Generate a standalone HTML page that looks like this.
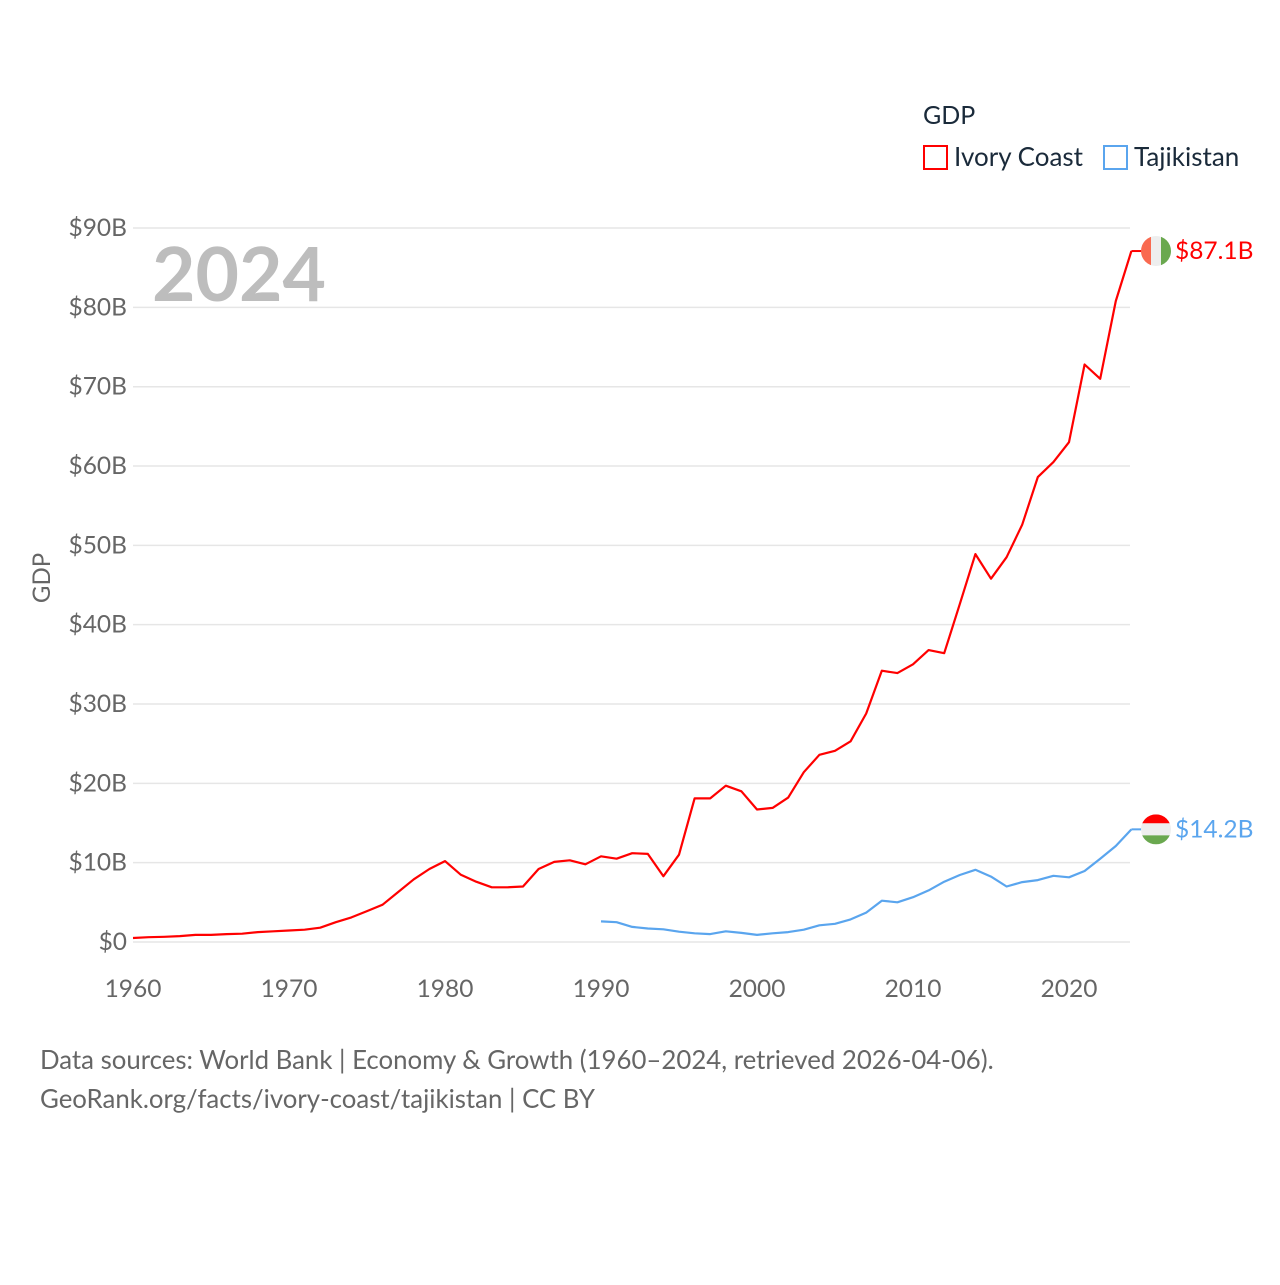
<!DOCTYPE html>
<html><head><meta charset="utf-8"><style>
body{margin:0;background:#fff;font-family:"Liberation Sans",sans-serif}
svg text{font-family:"Lato","Liberation Sans",sans-serif}
</style></head><body>
<svg id="chart" width="1280" height="1280" xmlns="http://www.w3.org/2000/svg">
<text x="923" y="124" font-size="25" fill="#1a2a3a">GDP</text>
<rect x="924" y="146" width="23" height="23" fill="none" stroke="#f00" stroke-width="2"/>
<text x="954" y="166" font-size="26" fill="#1a2a3a">Ivory Coast</text>
<rect x="1104" y="146" width="23" height="23" fill="none" stroke="#5aa5ee" stroke-width="2"/>
<text x="1134" y="166" font-size="26" fill="#1a2a3a">Tajikistan</text>
<g id="grid"></g>
<text x="152" y="301" font-size="75" font-weight="bold" fill="#bdbdbd">2024</text>
<text transform="translate(50,578) rotate(-90)" text-anchor="middle" font-size="24" fill="#666">GDP</text>
<g id="series"></g>
<text x="40" y="1069" font-size="25.8" fill="#666">Data sources: World Bank | Economy &amp; Growth (1960–2024, retrieved 2026-04-06).</text>
<text x="40" y="1108" font-size="25.8" fill="#666">GeoRank.org/facts/ivory-coast/tajikistan | CC BY</text>
</svg>
<script>
const yTicks=[0,10,20,30,40,50,60,70,80,90];
const xTicks=[1960,1970,1980,1990,2000,2010,2020];
const civStart=1960;
const civValues=[0.5,0.6,0.65,0.75,0.9,0.9,1.0,1.05,1.25,1.35,1.45,1.55,1.8,2.5,3.1,3.9,4.7,6.3,7.9,9.2,10.2,8.5,7.6,6.9,6.9,7.0,9.2,10.1,10.3,9.8,10.8,10.5,11.2,11.1,8.3,11.0,18.1,18.1,19.7,19.0,16.7,16.9,18.2,21.4,23.6,24.1,25.3,28.8,34.2,33.9,35.0,36.8,36.4,42.6,48.9,45.8,48.5,52.6,58.6,60.5,63.0,72.8,71.0,80.8,87.1];
const tjkStart=1990;
const tjkValues=[2.6,2.5,1.9,1.7,1.6,1.3,1.1,1.0,1.35,1.15,0.9,1.1,1.25,1.55,2.1,2.3,2.85,3.7,5.2,5.0,5.65,6.5,7.6,8.45,9.1,8.25,7.0,7.55,7.8,8.35,8.15,8.95,10.5,12.1,14.2];
const NS='http://www.w3.org/2000/svg';
const x=yr=>133+(yr-1960)*15.6;
const y=v=>942-v*7.933;
const grid=document.getElementById('grid');
function mk(tag,attrs,parent){const e=document.createElementNS(NS,tag);for(const k in attrs)e.setAttribute(k,attrs[k]);parent.appendChild(e);return e;}
yTicks.forEach(t=>{
  const l=mk('line',{x1:133,x2:1130,y1:y(t),y2:y(t),stroke:'#e6e6e6','stroke-width':1.5},grid);
  
  
  const tx=mk('text',{x:127,y:y(t)+8,'text-anchor':'end','font-size':24.5,fill:'#666'},grid);
  tx.textContent=t===0?'$0':'$'+t+'B';
  
  
});
xTicks.forEach(t=>{
  const tx=mk('text',{x:x(t),y:997,'text-anchor':'middle','font-size':24.5,fill:'#666'},grid);
  tx.textContent=t;
  
  
});
const s=document.getElementById('series');
function line(vals,start,color,name){
  const pts=vals.map((v,i)=>x(start+i).toFixed(1)+','+y(v).toFixed(1)).join(' ');
  const p=mk('polyline',{points:pts,fill:'none',stroke:color,'stroke-width':2.2,'stroke-linejoin':'round'},s);
  
  
  const last=vals[vals.length-1],lx=x(start+vals.length-1),ly=y(last);
  mk('line',{x1:lx,x2:lx+10,y1:ly,y2:ly,stroke:color,'stroke-width':2},s);
  return [lx,ly,last];
}
const a=line(civValues,civStart,'#ff0000','ivory-coast');
const b=line(tjkValues,tjkStart,'#5aa5ee','tajikistan');
function flag(cx,cy,kind){
  const g=mk('g',{},s);
  
  
  const id='c'+kind;
  const cp=mk('clipPath',{id:id},g);mk('circle',{cx:cx,cy:cy,r:15},cp);
  const gg=mk('g',{'clip-path':'url(#'+id+')'},g);
  if(kind==='ivory-coast'){
    mk('rect',{x:cx-15,y:cy-15,width:10,height:30,fill:'#f96a50'},gg);
    mk('rect',{x:cx-5,y:cy-15,width:10,height:30,fill:'#eee'},gg);
    mk('rect',{x:cx+5,y:cy-15,width:10,height:30,fill:'#6aa84f'},gg);
  } else {
    mk('rect',{x:cx-15,y:cy-15,width:30,height:9,fill:'#f00'},gg);
    mk('rect',{x:cx-15,y:cy-6,width:30,height:12,fill:'#eee'},gg);
    mk('rect',{x:cx-15,y:cy+6,width:30,height:9,fill:'#6aa84f'},gg);
  }
}
flag(1156,a[1],'ivory-coast');
flag(1156,b[1],'tajikistan');
[[a,'#ff0000','ivory-coast'],[b,'#5aa5ee','tajikistan']].forEach(([d,c,n])=>{
  const t=mk('text',{x:1175,y:d[1]+8,'font-size':24.5,fill:c},s);
  t.textContent='$'+d[2].toFixed(1)+'B';
  
  
});
</script>
</body></html>
